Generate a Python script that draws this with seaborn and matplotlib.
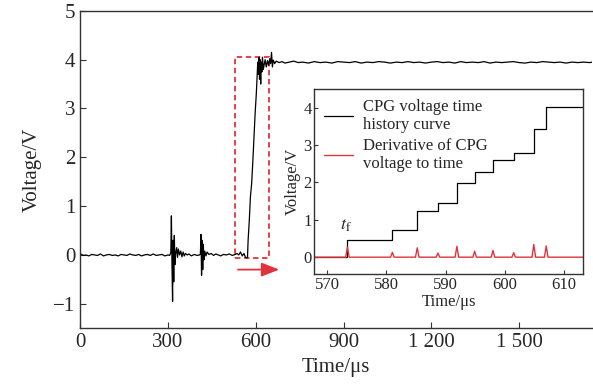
import numpy as np
import pandas as pd
import matplotlib
matplotlib.use("Agg")
import matplotlib.pyplot as plt
from matplotlib.patches import Rectangle
import seaborn as sns

# main trace, (time us, voltage V) pairs, split by segment
baseline = [(0, 0.03), (5, 0.01), (12, -0.01), (20, 0.0), (30, -0.02), (40, 0.01),
            (50, 0.0), (60, -0.01), (70, 0.02), (80, -0.02), (90, 0.0), (100, 0.01),
            (110, -0.01), (120, 0.0), (130, -0.02), (140, 0.01), (150, 0.0),
            (160, -0.01), (170, 0.02), (180, 0.0), (190, -0.01), (200, 0.01),
            (210, -0.02), (220, 0.0), (230, 0.01), (240, -0.01), (250, 0.02),
            (260, -0.01), (270, 0.0), (280, 0.01), (290, -0.02), (300, 0.0),
            (306, -0.01)]
burst_1 = [(310, 0.05), (312, 0.8), (314, -0.2), (316, -0.95), (318, 0.3),
           (320, -0.55), (322, 0.4), (324, -0.2), (327, 0.05), (330, 0.15),
           (333, -0.05), (336, 0.12), (340, 0.0), (344, 0.08), (348, -0.04),
           (352, 0.06), (356, -0.02), (360, 0.03), (366, 0.0), (372, 0.02),
           (380, -0.02), (390, 0.01), (400, -0.01), (408, 0.0)]
burst_2 = [(411, 0.02), (413, 0.42), (415, -0.42), (417, 0.3), (419, -0.3),
           (421, 0.22), (423, -0.1), (426, 0.08), (430, -0.02), (434, 0.06),
           (440, 0.01), (448, 0.03), (456, -0.01), (464, 0.02), (472, 0.0),
           (480, -0.02), (490, 0.01), (500, 0.0), (510, 0.02), (520, -0.01),
           (530, 0.01), (536, 0.03), (542, 0.0), (548, 0.06), (554, -0.02),
           (560, 0.03), (565, -0.05), (570, -0.06), (572, -0.04)]
rise = [(574, 0.3), (578, 0.7), (582, 1.2), (586, 1.45), (590, 1.9), (594, 2.4),
        (598, 2.9), (602, 3.3), (605, 3.7), (607, 3.95), (609, 3.7), (611, 4.05),
        (613, 3.6), (615, 4.0), (617, 3.5), (619, 3.95), (621, 3.75), (623, 4.05),
        (626, 3.8), (629, 3.9), (632, 4.0), (636, 3.85), (640, 3.98), (644, 3.88),
        (648, 4.02), (651, 3.92), (654, 4.15), (657, 3.85), (660, 3.99),
        (665, 3.92), (670, 3.97)]
plateau = [(680, 3.94), (690, 3.96), (700, 3.93), (715, 3.95), (730, 3.97),
           (745, 3.94), (760, 3.95), (780, 3.93), (800, 3.96), (820, 3.94),
           (840, 3.95), (860, 3.93), (880, 3.96), (900, 3.95), (920, 3.94),
           (940, 3.96), (960, 3.93), (980, 3.95), (1000, 3.94), (1020, 3.96),
           (1040, 3.95), (1060, 3.93), (1080, 3.95), (1100, 3.94), (1120, 3.96),
           (1140, 3.94), (1160, 3.95), (1180, 3.93), (1200, 3.95), (1220, 3.96),
           (1240, 3.94), (1260, 3.95), (1280, 3.93), (1300, 3.96), (1320, 3.94),
           (1340, 3.95), (1360, 3.94), (1380, 3.96), (1400, 3.93), (1420, 3.95),
           (1440, 3.94), (1460, 3.95), (1480, 3.96), (1500, 3.94), (1520, 3.93),
           (1540, 3.95), (1560, 3.94), (1580, 3.96), (1600, 3.95), (1620, 3.94),
           (1640, 3.95), (1660, 3.93), (1680, 3.95), (1700, 3.94), (1720, 3.95),
           (1740, 3.94), (1750, 3.95)]

# inset: CPG staircase and its derivative
step_t = [567.8, 573.4, 581.0, 585.2, 588.7, 591.9, 594.9, 598.0, 601.5, 604.9, 607.0]
step_v = [0.0, 0.47, 0.74, 1.23, 1.44, 1.98, 2.27, 2.59, 2.80, 3.44, 4.03]
peak_h = [0.27, 0.13, 0.25, 0.11, 0.29, 0.16, 0.18, 0.12, 0.34, 0.30]

main_xticks = [0, 300, 600, 900, 1200, 1500]
main_xlabels = ["0", "300", "600", "900", "1 200", "1 500"]
main_yticks = [-1, 0, 1, 2, 3, 4, 5]
main_ylabels = ["\u22121", "0", "1", "2", "3", "4", "5"]
inset_xticks = [570, 580, 590, 600, 610]
inset_yticks = [0, 1, 2, 3, 4]

sns.set_theme(style="ticks")
plt.rcParams["font.family"] = ["Liberation Serif", "DejaVu Serif"]
plt.rcParams["mathtext.fontset"] = "stix"
plt.rcParams["xtick.direction"] = "in"
plt.rcParams["ytick.direction"] = "in"

red = "#e0333c"

fig = plt.figure(figsize=(5.93, 3.87), dpi=100)
ax = fig.add_axes([0.135, 0.152, 0.864, 0.82])

main_df = pd.DataFrame(baseline + burst_1 + burst_2 + rise + plateau, columns=["t", "v"])
sns.lineplot(data=main_df, x="t", y="v", ax=ax, color="black", lw=0.9,
             estimator=None, sort=False)
ax.set_xlim(0, 1750)
ax.set_ylim(-1.5, 5)
ax.set_xticks(main_xticks, main_xlabels)
ax.set_yticks(main_yticks, main_ylabels)
ax.tick_params(labelsize=15, length=4, width=0.8, color="#333333")
ax.set_xlabel("Time/\u03bcs", fontsize=15)
ax.set_ylabel("Voltage/V", fontsize=15, labelpad=8)
for s in ax.spines.values():
    s.set_linewidth(1.0)
    s.set_color("#333333")
ax.spines["right"].set_visible(False)

ax.add_patch(Rectangle((530, -0.07), 117, 4.12, fill=False, edgecolor=red,
                       linestyle=(0, (3, 2)), lw=1.3))
ax.annotate("", xy=(690, -0.3), xytext=(530, -0.3),
            arrowprops=dict(arrowstyle="-|>,head_length=0.9,head_width=0.35",
                            color=red, lw=1.3))

# inset
ins = fig.add_axes([0.530, 0.292, 0.453, 0.478])
ins.step(step_t + [613.2], step_v + [step_v[-1]], where="post", color="black",
         lw=0.9, label="CPG voltage time\nhistory curve")

deriv_t = [step_t[0]]
deriv_v = [0.0]
for t, h in zip(step_t[1:], peak_h):
    deriv_t += [t - 0.3, t, t + 0.3]
    deriv_v += [0.0, h, 0.0]
deriv_t.append(613.2)
deriv_v.append(0.0)
deriv_df = pd.DataFrame({"t": deriv_t, "v": deriv_v})
sns.lineplot(data=deriv_df, x="t", y="v", ax=ins, color=red, lw=1.0,
             estimator=None, sort=False, label="Derivative of CPG\nvoltage to time")

ins.set_xlim(567.8, 613.2)
ins.set_ylim(-0.45, 4.5)
ins.set_xticks(inset_xticks)
ins.set_yticks(inset_yticks)
ins.tick_params(labelsize=12, length=3, width=0.8, color="#333333", pad=2)
ins.set_xlabel("Time/\u03bcs", fontsize=12, labelpad=1)
ins.set_ylabel("Voltage/V", fontsize=12, labelpad=2)
for s in ins.spines.values():
    s.set_linewidth(1.0)
    s.set_color("#333333")
ins.text(573.2, 0.62, r"$t_\mathrm{f}$", fontsize=13, ha="center", va="bottom")
ins.legend(loc="upper left", frameon=False, fontsize=12, handlelength=1.7,
           handletextpad=0.6, labelspacing=0.25, borderaxespad=0.2,
           bbox_to_anchor=(0.0, 1.0))

fig.savefig("out.png", dpi=100)
